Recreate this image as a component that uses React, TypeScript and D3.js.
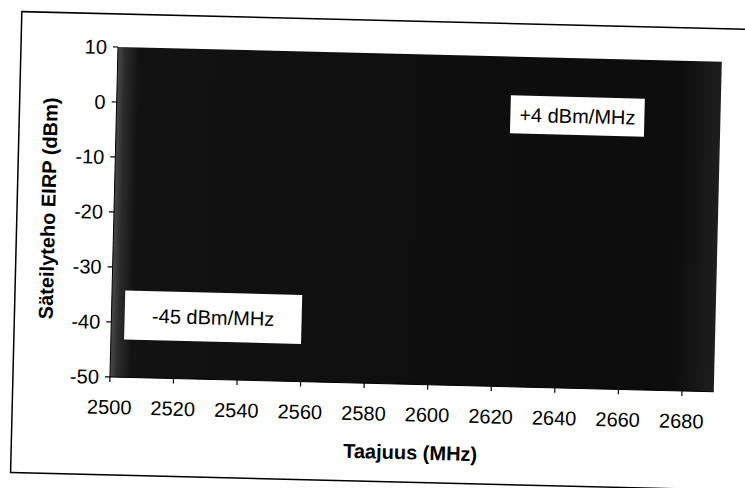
import React from "react";
import * as d3 from "d3";

// frequency band (MHz) and the filled EIRP level (dBm)
const freqs = [2500, 2690];
const eirp = [10, 10];
const xTicks = [2500, 2520, 2540, 2560, 2580, 2600, 2620, 2640, 2660, 2680];
const yTicks = [10, 0, -10, -20, -30, -40, -50];
const labelTexts = ["+4 dBm/MHz", "-45 dBm/MHz"];
const labelFreqs = [2645, 2532];
const labelLevels = [-0.5, -38.7];

const width = 745;
const height = 488;
const marginLeft = 118;
const marginTop = 47;
const plotW = 604;
const plotH = 330;
const font = "Arial, 'Liberation Sans', sans-serif";

export default function App() {
  const x = d3.scaleLinear().domain([2500, 2690]).range([marginLeft, marginLeft + plotW]);
  const y = d3.scaleLinear().domain([-50, 10]).range([marginTop + plotH, marginTop]);

  const area = d3.area<number>()
    .x((_, i) => x(freqs[i]))
    .y0(y(-50))
    .y1((d) => y(d));

  const boxes = [
    { w: 134, h: 38 },
    { w: 177, h: 49 },
  ];

  return (
    <svg
      width={width}
      height={height}
      style={{ position: "absolute", left: 0, top: 0, background: "#fff" }}
    >
      <defs>
        <linearGradient id="shade" x1="0" x2="1" y1="0" y2="0">
          <stop offset="0" stopColor="#4a4a4a" />
          <stop offset="0.012" stopColor="#2c2c2c" />
          <stop offset="0.035" stopColor="#121212" />
          <stop offset="0.93" stopColor="#0c0c0c" />
          <stop offset="1" stopColor="#1e1e1e" />
        </linearGradient>
      </defs>
      <g transform={`rotate(1.4 ${marginLeft} ${marginTop})`}>
        {/* outer frame */}
        <rect x={21} y={14} width={780} height={461} fill="none" stroke="#000" strokeWidth={1.5} />

        <path d={area(eirp) ?? ""} fill="url(#shade)" />

        {/* y axis */}
        <line x1={x(2500)} x2={x(2500)} y1={y(10)} y2={y(-50)} stroke="#000" />
        {yTicks.map((t) => (
          <g key={t} transform={`translate(${x(2500)},${y(t)})`}>
            <line x1={-5} x2={0} stroke="#000" strokeWidth={1.2} />
            <text x={-11} dy="0.36em" textAnchor="end" fontFamily={font} fontSize={20}>
              {t}
            </text>
          </g>
        ))}

        {/* x axis */}
        <line x1={x(2500)} x2={x(2690)} y1={y(-50)} y2={y(-50)} stroke="#000" />
        {xTicks.map((t) => (
          <g key={t} transform={`translate(${x(t)},${y(-50)})`}>
            <line y1={0} y2={5} stroke="#000" strokeWidth={1.2} />
            <text y={30} dy="0.36em" textAnchor="middle" fontFamily={font} fontSize={20}>
              {t}
            </text>
          </g>
        ))}

        {/* band labels */}
        {labelTexts.map((txt, i) => {
          const cx = x(labelFreqs[i]);
          const cy = y(labelLevels[i]);
          const b = boxes[i];
          return (
            <g key={txt}>
              <rect x={cx - b.w / 2} y={cy - b.h / 2} width={b.w} height={b.h} fill="#fff" />
              <text x={cx} y={cy} dy="0.36em" textAnchor="middle" fontFamily={font} fontSize={20}>
                {txt}
              </text>
            </g>
          );
        })}

        {/* axis titles */}
        <text
          x={marginLeft + plotW / 2}
          y={445}
          dy="0.36em"
          textAnchor="middle"
          fontFamily={font}
          fontSize={20}
          fontWeight="bold"
        >
          Taajuus (MHz)
        </text>
        <text
          transform={`translate(52,210) rotate(-90)`}
          dy="0.36em"
          textAnchor="middle"
          fontFamily={font}
          fontSize={20}
          fontWeight="bold"
        >
          Säteilyteho EIRP (dBm)
        </text>
      </g>
    </svg>
  );
}
